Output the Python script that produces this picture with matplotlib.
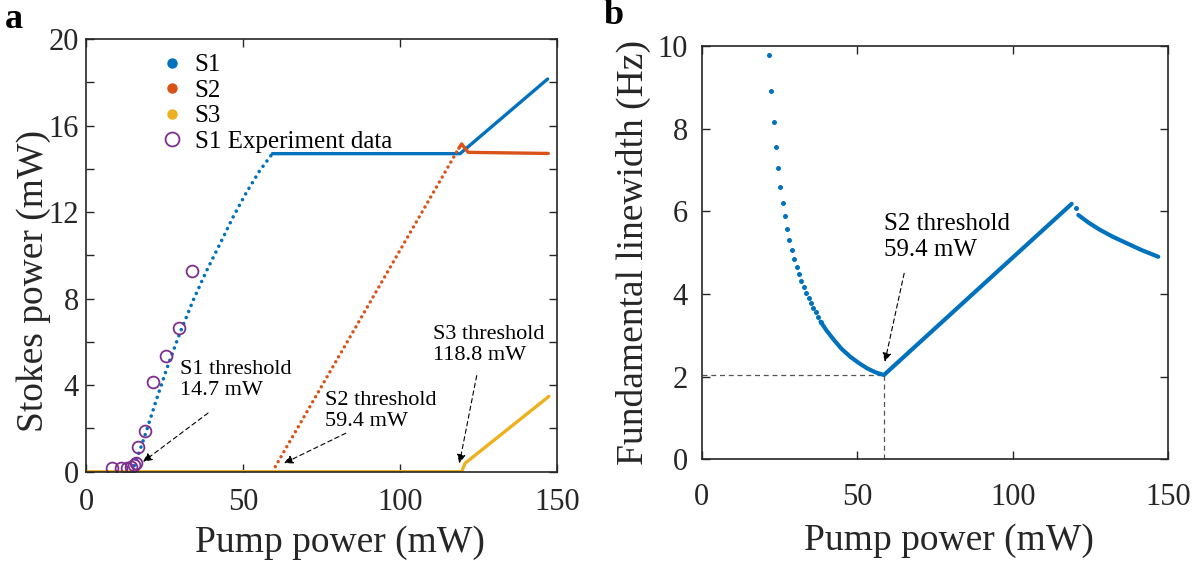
import matplotlib
matplotlib.use('Agg')
import matplotlib.pyplot as plt
from matplotlib.lines import Line2D
from matplotlib.ticker import MultipleLocator

plt.rcParams['font.family'] = ['Liberation Serif', 'DejaVu Serif']

# ---------------- data: panel a ----------------
s1_pump = [0, 14.7, 17.2, 19.3, 22.5, 25.6, 29.9, 34.1, 38.3, 42.6, 46.8, 51.1, 55.3, 59.4]
s1_power = [0, 0, 1.0, 1.9, 3.35, 4.7, 6.4, 7.9, 9.25, 10.5, 11.75, 12.9, 13.9, 14.7]
s1_clamp_pump = [59.4, 119.2, 147.1]
s1_clamp_power = [14.7, 14.7, 18.15]

s2_pump = [0, 59.4, 118.8]
s2_power = [0, 0, 14.95]
s2_clamp_pump = [118.8, 119.7, 121.8, 147.3]
s2_clamp_power = [14.95, 15.15, 14.76, 14.71]

s3_pump = [0, 119.7, 120.8, 147.5]
s3_power = [0, 0, 0.39, 3.48]

exp_pump = [8.4, 11.3, 13.0, 14.4, 15.3, 15.9, 16.6, 18.75, 21.4, 25.4, 29.6, 33.9]
exp_power = [0.15, 0.17, 0.18, 0.22, 0.3, 0.42, 1.13, 1.89, 4.15, 5.34, 6.63, 9.29]

# ---------------- data: panel b ----------------
lw_dot_pump = [21.7, 22.4, 23.2, 23.9, 24.6, 25.3, 26.1, 26.8, 27.5, 28.2, 29.0, 29.8,
               30.5, 31.3, 32.0, 32.8, 33.5, 34.4, 35.2, 35.8, 36.6, 37.3, 38.2]
lw_dot_val = [9.78, 8.90, 8.17, 7.56, 7.05, 6.60, 6.21, 5.88, 5.57, 5.31, 5.06, 4.85,
              4.66, 4.48, 4.32, 4.17, 4.03, 3.90, 3.77, 3.67, 3.56, 3.45, 3.33]
lw_line_pump = [38.2, 40.3, 42.5, 45.0, 47.8, 50.5, 53.2, 56.0, 58.6, 95.9, 118.95]
lw_line_val = [3.33, 3.10, 2.89, 2.67, 2.48, 2.33, 2.20, 2.10, 2.04, 4.60, 6.18]
lw_blip_pump = [120.3]
lw_blip_val = [6.07]
lw_tail_pump = [121.1, 124.5, 128.1, 132.3, 136.6, 141.5, 146.8]
lw_tail_val = [5.91, 5.72, 5.55, 5.38, 5.23, 5.06, 4.90]

BLUE = '#0072BD'
ORANGE = '#D95319'
YELLOW = '#EDB120'
PURPLE = '#7E2F8E'
AXC = '#262626'

fig = plt.figure(figsize=(12.04, 5.61), dpi=100)
axA = fig.add_axes([0.0714, 0.1592, 0.391, 0.7713])
axB = fig.add_axes([0.5828, 0.1813, 0.3875, 0.7367])


def style_axes(ax):
    for sp in ax.spines.values():
        sp.set_color(AXC)
        sp.set_linewidth(1.2)
    ax.tick_params(which='both', direction='in', top=True, right=True,
                   length=6, width=1.0, color=AXC, labelcolor=AXC)


# ---------------- panel a ----------------
dot_kw = dict(dash_capstyle='round', solid_capstyle='round')
axA.plot(s1_pump[:2], s1_power[:2], color=BLUE, lw=2.2)
axA.plot(s1_pump[1:], s1_power[1:], color=BLUE, lw=2.6,
         linestyle=(0, (0.01, 1.8)), **dot_kw)
axA.plot(s1_clamp_pump, s1_clamp_power, color=BLUE, lw=2.4, solid_capstyle='round')
axA.plot(s2_pump[:2], s2_power[:2], color=ORANGE, lw=2.2)
axA.plot(s2_pump[1:], s2_power[1:], color=ORANGE, lw=2.5,
         linestyle=(0, (0.01, 1.65)), **dot_kw)
axA.plot(s2_clamp_pump, s2_clamp_power, color=ORANGE, lw=2.4, solid_capstyle='round')
axA.plot(s3_pump, s3_power, color=YELLOW, lw=2.4, solid_capstyle='round')
axA.plot(exp_pump, exp_power, linestyle='none', marker='o', markersize=8.5,
         markerfacecolor='none', markeredgecolor=PURPLE, markeredgewidth=1.3)

axA.set_xlim(0, 150)
axA.set_ylim(0, 20)
axA.set_xticks([0, 50, 100, 150])
axA.set_yticks([0, 4, 8, 12, 16, 20])
axA.yaxis.set_minor_locator(MultipleLocator(2))
style_axes(axA)
axA.tick_params(axis='both', which='major', labelsize=22)
axA.tick_params(axis='x', pad=12)
axA.tick_params(axis='y', pad=5)
axA.set_xlabel('Pump power (mW)', fontsize=27, color=AXC)
axA.set_ylabel('Stokes power (mW)', fontsize=27, color=AXC)
axA.xaxis.set_label_coords(0.54, -0.125)
axA.yaxis.set_label_coords(-0.075, 0.44)

handles = [
    Line2D([], [], linestyle='none', marker='o', markersize=6.5, color=BLUE),
    Line2D([], [], linestyle='none', marker='o', markersize=6.5, color=ORANGE),
    Line2D([], [], linestyle='none', marker='o', markersize=6.5, color=YELLOW),
    Line2D([], [], linestyle='none', marker='o', markersize=10,
           markerfacecolor='none', markeredgecolor=PURPLE, markeredgewidth=1.3),
]
axA.legend(handles, ['S1', 'S2', 'S3', 'S1 Experiment data'], loc='upper left',
           bbox_to_anchor=(0.13, 1.0), frameon=False, fontsize=18,
           handlelength=0.8, handletextpad=0.5, labelspacing=0.12,
           borderaxespad=0.2)

arrow_kw = dict(arrowstyle='-|>', linestyle=(0, (4, 3)), color='black', lw=0.8,
                mutation_scale=13, shrinkA=0, shrinkB=0)
axA.annotate('', xy=(18.2, 0.46), xytext=(38.9, 2.71), arrowprops=arrow_kw)
axA.annotate('', xy=(63.1, 0.39), xytext=(82.8, 1.78), arrowprops=arrow_kw)
axA.annotate('', xy=(119.0, 0.39), xytext=(124.5, 4.44), arrowprops=arrow_kw)
txt_kw = dict(fontsize=16, ha='left', va='center', color='black', linespacing=1.15)
axA.text(29.9, 4.25, 'S1 threshold\n14.7 mW', **txt_kw)
axA.text(76.1, 2.82, 'S2 threshold\n59.4 mW', **txt_kw)
axA.text(110.5, 5.87, 'S3 threshold\n118.8 mW', **txt_kw)

# ---------------- panel b ----------------
axB.plot([0, 58.6], [2.04, 2.04], color='#555555', lw=0.9, linestyle=(0, (4, 3)))
axB.plot([58.6, 58.6], [0, 2.04], color='#555555', lw=0.9, linestyle=(0, (4, 3)))
axB.plot(lw_dot_pump, lw_dot_val, linestyle='none', marker='o', markersize=3.6,
         color=BLUE, markeredgewidth=0)
axB.plot(lw_line_pump, lw_line_val, color=BLUE, lw=3.0, solid_capstyle='round',
         solid_joinstyle='round')
axB.plot(lw_blip_pump, lw_blip_val, linestyle='none', marker='o', markersize=3.6,
         color=BLUE, markeredgewidth=0)
axB.plot(lw_tail_pump, lw_tail_val, color=BLUE, lw=3.0, solid_capstyle='round',
         solid_joinstyle='round')
axB.annotate('', xy=(58.9, 2.36), xytext=(65.1, 4.5), arrowprops=arrow_kw)
axB.text(58.5, 5.38, 'S2 threshold\n59.4 mW', fontsize=18, ha='left', va='center',
         color='black', linespacing=1.2)

axB.set_xlim(0, 150)
axB.set_ylim(0, 10)
axB.set_xticks([0, 50, 100, 150])
axB.set_yticks([0, 2, 4, 6, 8, 10])
style_axes(axB)
axB.tick_params(axis='both', which='major', labelsize=22)
axB.tick_params(axis='x', pad=17)
axB.tick_params(axis='y', pad=10)
axB.set_xlabel('Pump power (mW)', fontsize=27, color=AXC)
axB.set_ylabel('Fundamental linewidth (Hz)', fontsize=27, color=AXC)
axB.xaxis.set_label_coords(0.53, -0.155)
axB.yaxis.set_label_coords(-0.108, 0.5)

fig.text(0.004, 0.965, 'a', fontsize=26, fontweight='bold', ha='left', va='center')
fig.text(0.5015, 0.972, 'b', fontsize=26, fontweight='bold', ha='left', va='center')

fig.savefig('out.png', dpi=100)
